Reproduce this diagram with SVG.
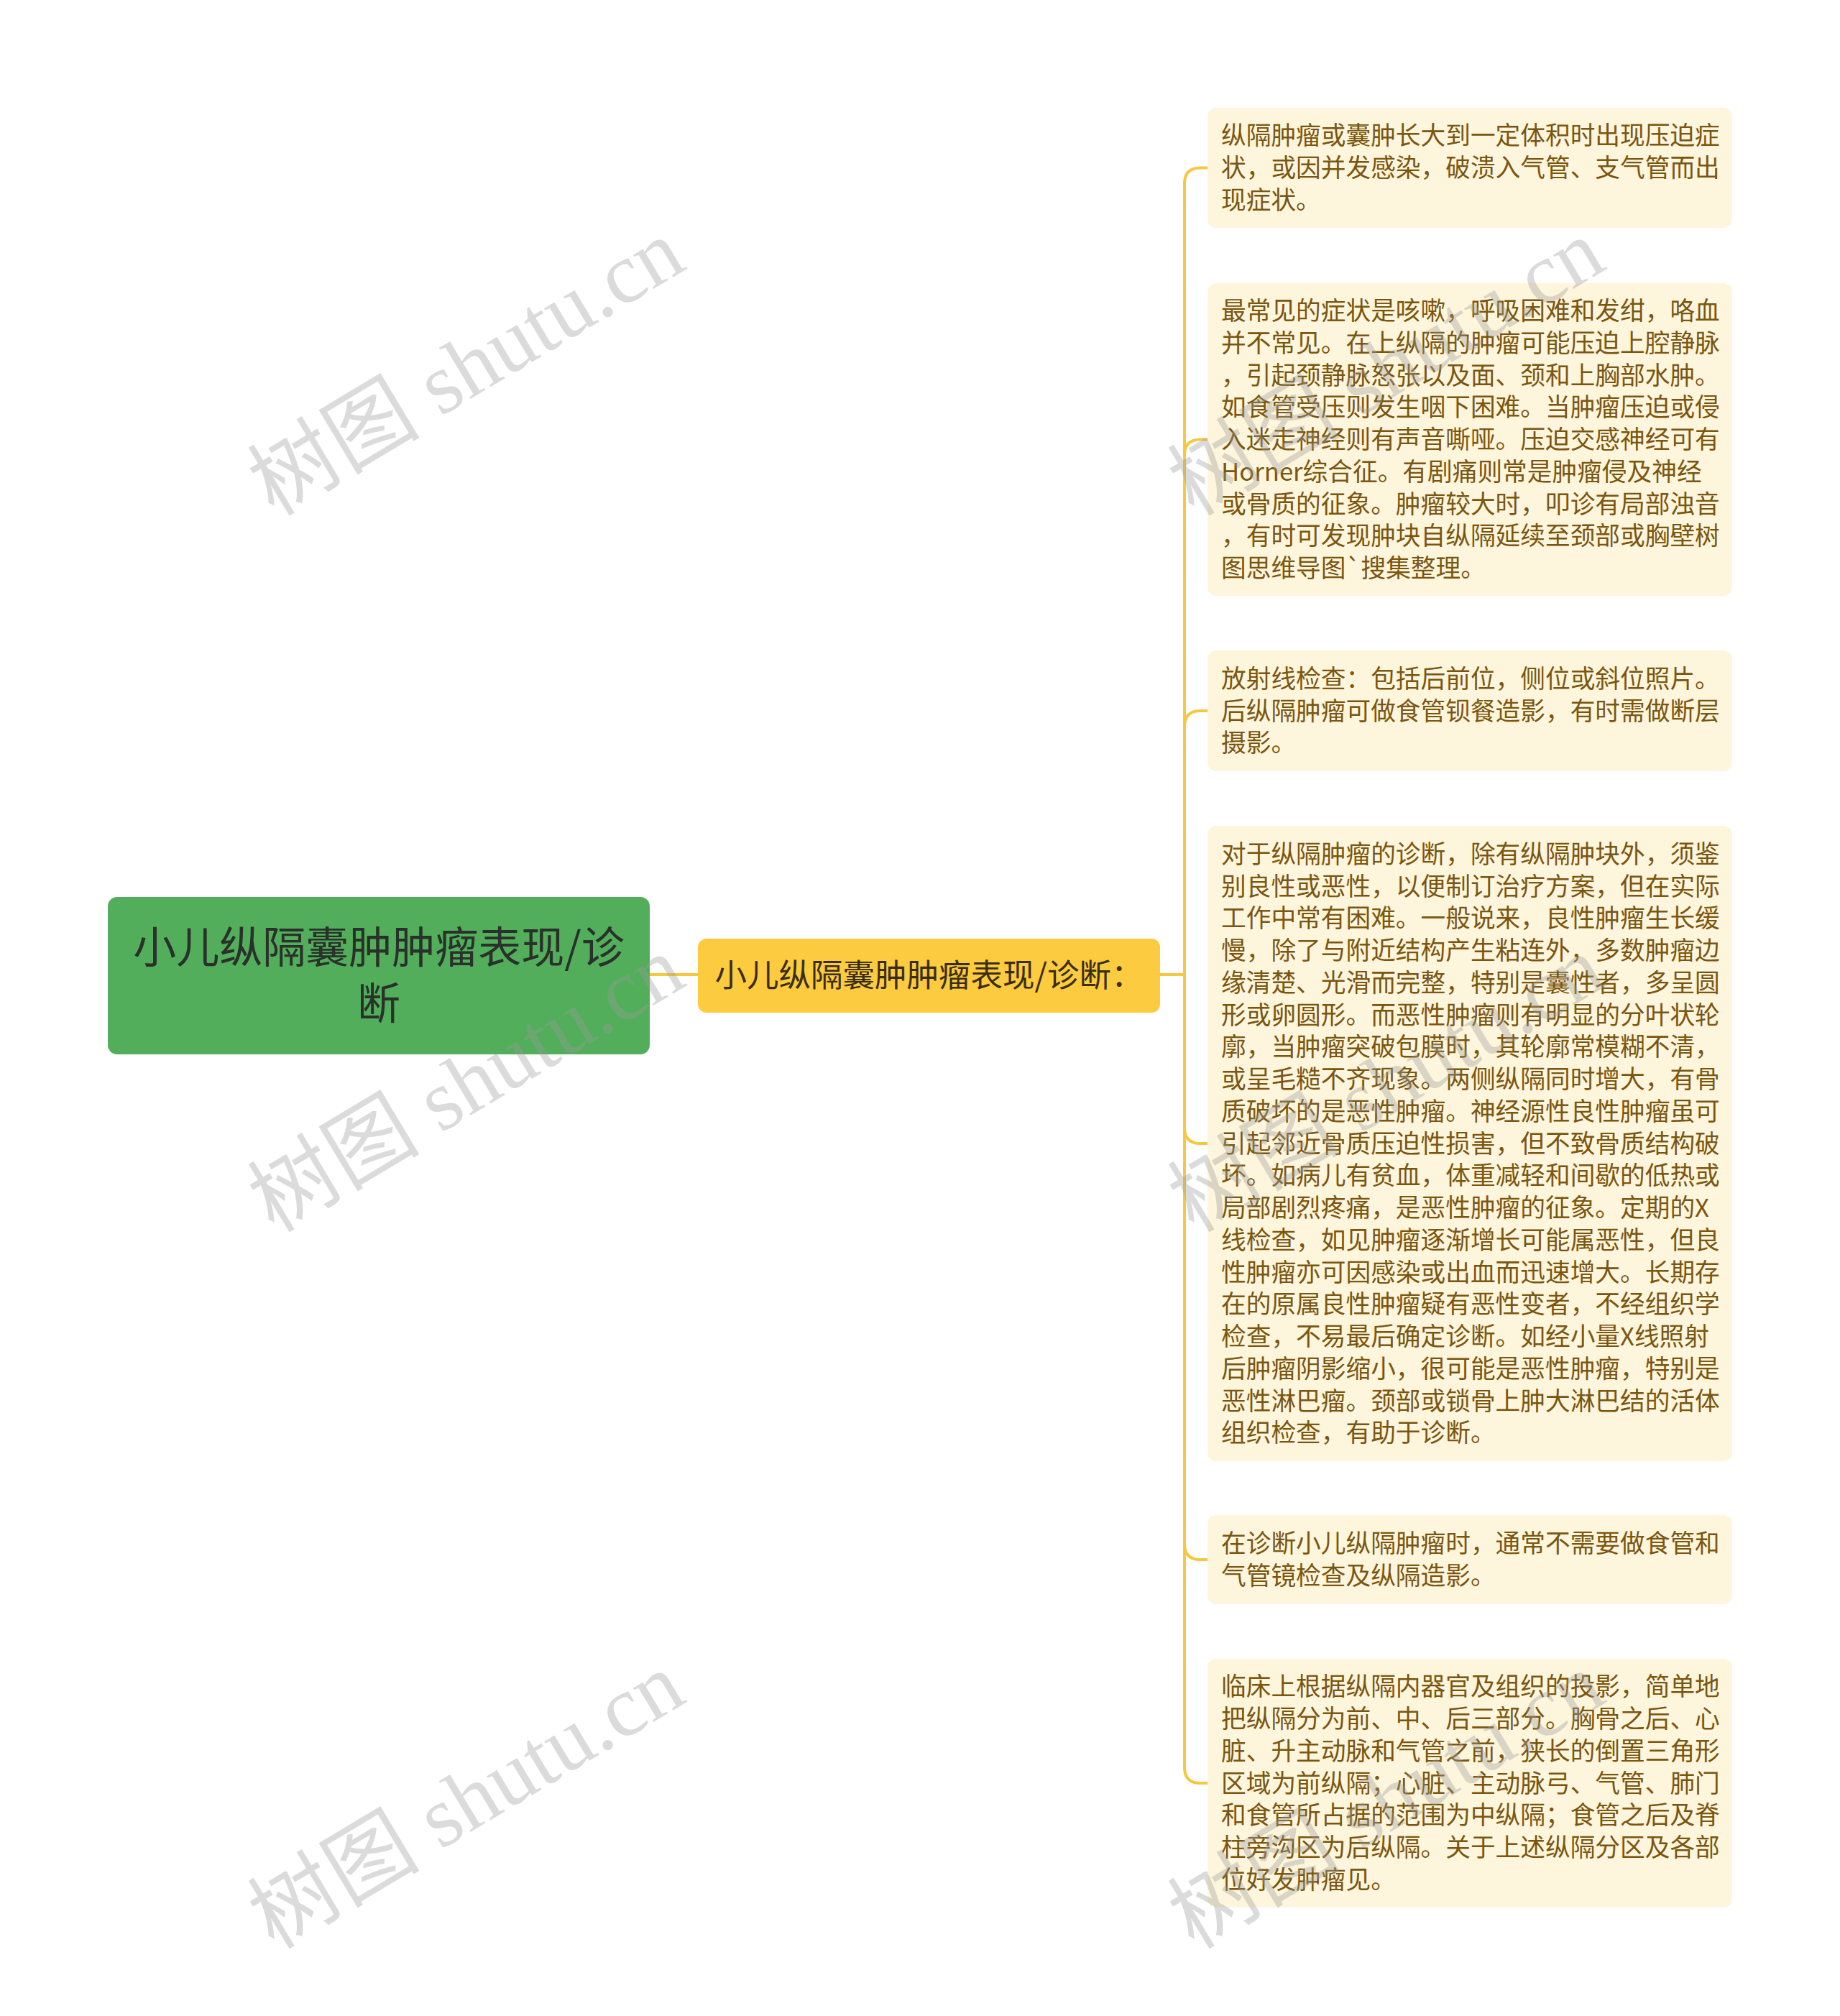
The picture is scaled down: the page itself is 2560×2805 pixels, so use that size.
<svg xmlns="http://www.w3.org/2000/svg" width="2560" height="2805" viewBox="0 0 2560 2805">
<style>
.leaf{fill:#fdf5dc;}
.lt{font-family:"Noto Sans CJK SC","Noto Sans",sans-serif;font-size:34.7px;fill:#7a5610;}
.conn{fill:none;stroke:#f5c842;stroke-width:4;}
.wm{font-family:"Liberation Serif","Noto Sans CJK SC",serif;font-size:120px;fill:#9a9a9a;fill-opacity:0.36;}
</style>
<rect width="2560" height="2805" fill="#ffffff"/>
<g id="connectors">
<path class="conn" d="M904 1356 H971"/>
<path class="conn" d="M1614 1356 H1648 V255.5 Q1648 233.5 1670 233.5 H1680"/>
<path class="conn" d="M1648 1356 V633.5 Q1648 611.5 1670 611.5 H1680"/>
<path class="conn" d="M1648 1356 V1011 Q1648 989 1670 989 H1680"/>
<path class="conn" d="M1648 1356 V1569 Q1648 1591 1670 1591 H1680"/>
<path class="conn" d="M1648 1356 V2148 Q1648 2170 1670 2170 H1680"/>
<path class="conn" d="M1648 1356 V2459 Q1648 2481 1670 2481 H1680"/>
</g>
<g id="root">
<rect x="150" y="1248" width="754" height="219" rx="13" fill="#52ae5b"/>
<text font-family="Noto Sans CJK SC,Noto Sans,sans-serif" font-size="60" fill="#2a302a" text-anchor="middle"><tspan x="527" y="1340">小儿纵隔囊肿肿瘤表现/诊</tspan><tspan x="527" y="1418">断</tspan></text>
</g>
<g id="main">
<rect x="971" y="1306" width="643" height="103" rx="12" fill="#fdcb3f"/>
<text x="1292.5" y="1373" font-family="Noto Sans CJK SC,Noto Sans,sans-serif" font-size="44.5" fill="#3a2e10" text-anchor="middle">小儿纵隔囊肿肿瘤表现/诊断：</text>
</g>
<g id="leaf1">
<rect class="leaf" x="1680" y="150" width="730" height="167" rx="12"/>
<text class="lt" x="1699" y="201.25"><tspan x="1699">纵隔肿瘤或囊肿长大到一定体积时出现压迫症</tspan><tspan x="1699" dy="44.75">状，或因并发感染，破溃入气管、支气管而出</tspan><tspan x="1699" dy="44.75">现症状。</tspan></text>
</g>
<g id="leaf2">
<rect class="leaf" x="1680" y="394" width="730" height="435" rx="12"/>
<text class="lt" x="1699" y="445"><tspan x="1699">最常见的症状是咳嗽，呼吸困难和发绀，咯血</tspan><tspan x="1699" dy="44.75">并不常见。在上纵隔的肿瘤可能压迫上腔静脉</tspan><tspan x="1699" dy="44.75">，引起颈静脉怒张以及面、颈和上胸部水肿。</tspan><tspan x="1699" dy="44.75">如食管受压则发生咽下困难。当肿瘤压迫或侵</tspan><tspan x="1699" dy="44.75">入迷走神经则有声音嘶哑。压迫交感神经可有</tspan><tspan x="1699" dy="44.75">Horner综合征。有剧痛则常是肿瘤侵及神经</tspan><tspan x="1699" dy="44.75">或骨质的征象。肿瘤较大时，叩诊有局部浊音</tspan><tspan x="1699" dy="44.75">，有时可发现肿块自纵隔延续至颈部或胸壁树</tspan><tspan x="1699" dy="44.75">图思维导图`搜集整理。</tspan></text>
</g>
<g id="leaf3">
<rect class="leaf" x="1680" y="905" width="730" height="168" rx="12"/>
<text class="lt" x="1699" y="956.75"><tspan x="1699">放射线检查：包括后前位，侧位或斜位照片。</tspan><tspan x="1699" dy="44.75">后纵隔肿瘤可做食管钡餐造影，有时需做断层</tspan><tspan x="1699" dy="44.75">摄影。</tspan></text>
</g>
<g id="leaf4">
<rect class="leaf" x="1680" y="1149" width="730" height="884" rx="12"/>
<text class="lt" x="1699" y="1200.75"><tspan x="1699">对于纵隔肿瘤的诊断，除有纵隔肿块外，须鉴</tspan><tspan x="1699" dy="44.75">别良性或恶性，以便制订治疗方案，但在实际</tspan><tspan x="1699" dy="44.75">工作中常有困难。一般说来，良性肿瘤生长缓</tspan><tspan x="1699" dy="44.75">慢，除了与附近结构产生粘连外，多数肿瘤边</tspan><tspan x="1699" dy="44.75">缘清楚、光滑而完整，特别是囊性者，多呈圆</tspan><tspan x="1699" dy="44.75">形或卵圆形。而恶性肿瘤则有明显的分叶状轮</tspan><tspan x="1699" dy="44.75">廓，当肿瘤突破包膜时，其轮廓常模糊不清，</tspan><tspan x="1699" dy="44.75">或呈毛糙不齐现象。两侧纵隔同时增大，有骨</tspan><tspan x="1699" dy="44.75">质破坏的是恶性肿瘤。神经源性良性肿瘤虽可</tspan><tspan x="1699" dy="44.75">引起邻近骨质压迫性损害，但不致骨质结构破</tspan><tspan x="1699" dy="44.75">坏。如病儿有贫血，体重减轻和间歇的低热或</tspan><tspan x="1699" dy="44.75">局部剧烈疼痛，是恶性肿瘤的征象。定期的X</tspan><tspan x="1699" dy="44.75">线检查，如见肿瘤逐渐增长可能属恶性，但良</tspan><tspan x="1699" dy="44.75">性肿瘤亦可因感染或出血而迅速增大。长期存</tspan><tspan x="1699" dy="44.75">在的原属良性肿瘤疑有恶性变者，不经组织学</tspan><tspan x="1699" dy="44.75">检查，不易最后确定诊断。如经小量X线照射</tspan><tspan x="1699" dy="44.75">后肿瘤阴影缩小，很可能是恶性肿瘤，特别是</tspan><tspan x="1699" dy="44.75">恶性淋巴瘤。颈部或锁骨上肿大淋巴结的活体</tspan><tspan x="1699" dy="44.75">组织检查，有助于诊断。</tspan></text>
</g>
<g id="leaf5">
<rect class="leaf" x="1680" y="2108" width="730" height="124" rx="12"/>
<text class="lt" x="1699" y="2160"><tspan x="1699">在诊断小儿纵隔肿瘤时，通常不需要做食管和</tspan><tspan x="1699" dy="44.75">气管镜检查及纵隔造影。</tspan></text>
</g>
<g id="leaf6">
<rect class="leaf" x="1680" y="2308" width="730" height="346" rx="12"/>
<text class="lt" x="1699" y="2359.25"><tspan x="1699">临床上根据纵隔内器官及组织的投影，简单地</tspan><tspan x="1699" dy="44.75">把纵隔分为前、中、后三部分。胸骨之后、心</tspan><tspan x="1699" dy="44.75">脏、升主动脉和气管之前，狭长的倒置三角形</tspan><tspan x="1699" dy="44.75">区域为前纵隔；心脏、主动脉弓、气管、肺门</tspan><tspan x="1699" dy="44.75">和食管所占据的范围为中纵隔；食管之后及脊</tspan><tspan x="1699" dy="44.75">柱旁沟区为后纵隔。关于上述纵隔分区及各部</tspan><tspan x="1699" dy="44.75">位好发肿瘤见。</tspan></text>
</g>
<g id="watermarks">
<text class="wm" x="648" y="552" text-anchor="middle" transform="rotate(-31 648 510)">树图 shutu.cn</text>
<text class="wm" x="648" y="1549" text-anchor="middle" transform="rotate(-31 648 1507)">树图 shutu.cn</text>
<text class="wm" x="648" y="2546" text-anchor="middle" transform="rotate(-31 648 2504)">树图 shutu.cn</text>
<text class="wm" x="1928" y="552" text-anchor="middle" transform="rotate(-31 1928 510)">树图 shutu.cn</text>
<text class="wm" x="1928" y="1549" text-anchor="middle" transform="rotate(-31 1928 1507)">树图 shutu.cn</text>
<text class="wm" x="1928" y="2546" text-anchor="middle" transform="rotate(-31 1928 2504)">树图 shutu.cn</text>
</g>
</svg>
